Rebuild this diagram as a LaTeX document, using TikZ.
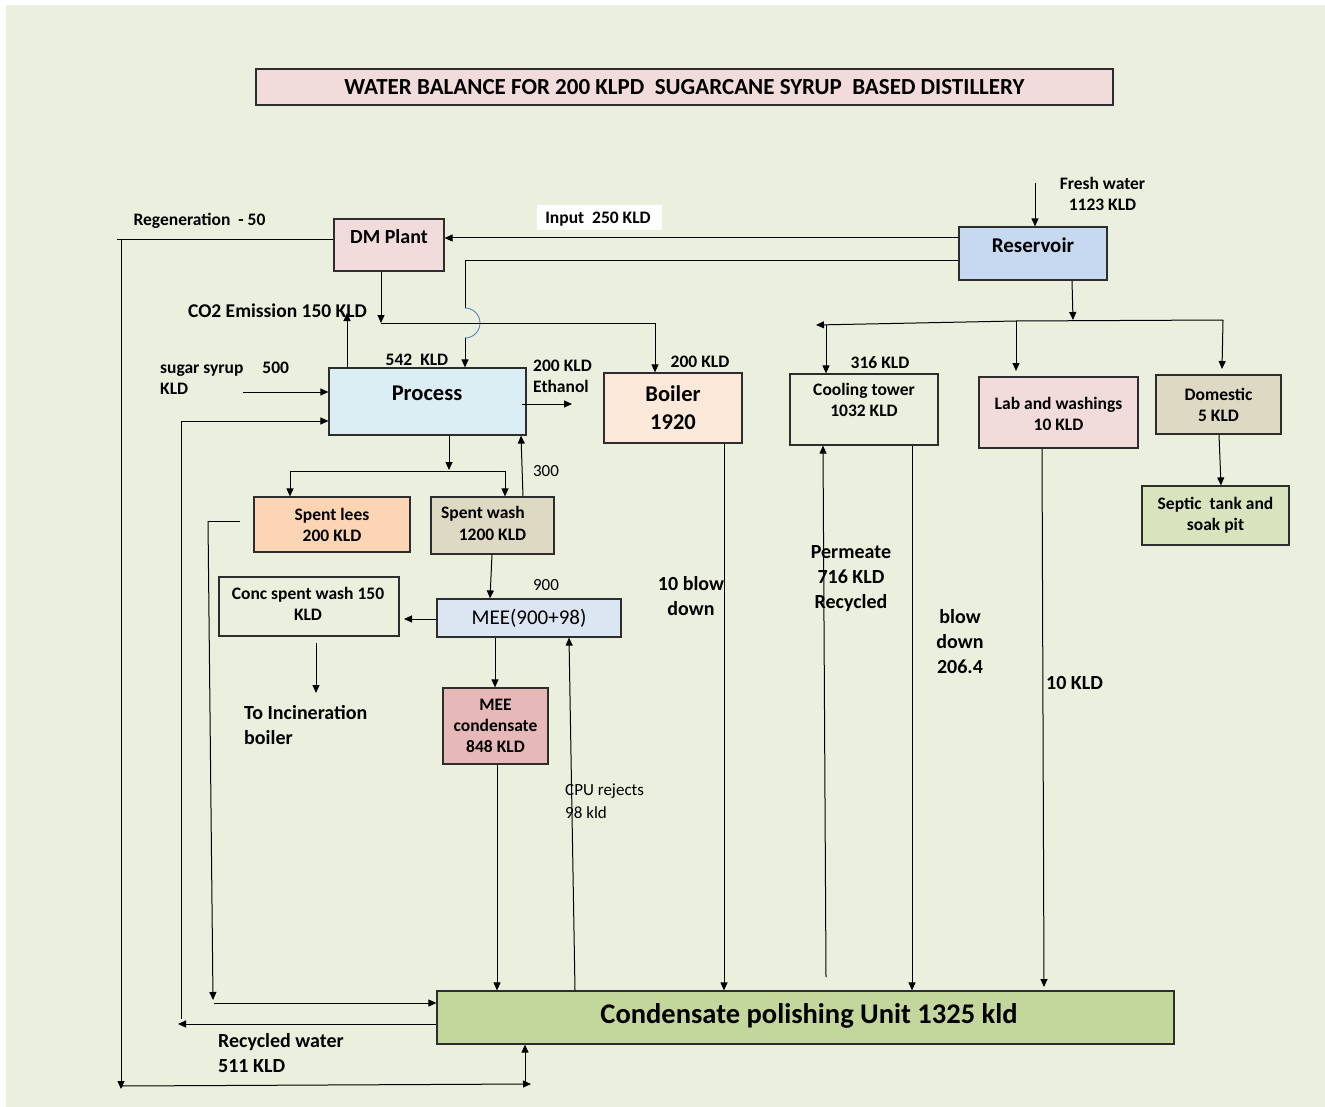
\documentclass[tikz,border=0pt]{standalone}
\usepackage{fontspec}
\setmainfont{Carlito}
\usetikzlibrary{arrows.meta}

\definecolor{bgc}{RGB}{235,239,222}
\definecolor{boxline}{RGB}{45,45,45}
\definecolor{pinkc}{RGB}{242,220,219}
\definecolor{resc}{RGB}{198,217,241}
\definecolor{procc}{RGB}{219,238,244}
\definecolor{boilc}{RGB}{253,233,217}
\definecolor{leesc}{RGB}{252,213,181}
\definecolor{washc}{RGB}{221,217,195}
\definecolor{meec}{RGB}{220,230,242}
\definecolor{condc}{RGB}{230,185,184}
\definecolor{septc}{RGB}{215,228,189}
\definecolor{cpuc}{RGB}{195,214,155}
\definecolor{hopc}{RGB}{79,129,189}

\tikzset{
  box/.style={draw=boxline, line width=1.2pt, inner sep=0pt},
  ln/.style={line width=1pt},
  arr/.style={ln, -{Triangle[length=8pt,width=7pt]}},
  hop/.style={line width=0.9pt, draw=hopc},
  sb/.style={inner sep=0pt, align=center, font=\bfseries\fontsize{17.5}{21}\selectfont},
  mb/.style={inner sep=0pt, align=center, font=\bfseries\fontsize{20}{25}\selectfont},
  lb/.style={inner sep=0pt, align=center, font=\bfseries\fontsize{22.5}{28}\selectfont},
  sr/.style={inner sep=0pt, align=left, font=\fontsize{17}{23}\selectfont},
}

\begin{document}
\begin{tikzpicture}[x=1pt,y=-1pt]
\useasboundingbox (0,0) rectangle (1325,1107);
\fill[white] (0,0) rectangle (1325,1107);
\fill[bgc] (6,5) rectangle (1325,1107);

% ---- heading ----
\node[box, fill=pinkc, minimum width=857pt, minimum height=36pt,
      font=\bfseries\fontsize{23}{27}\selectfont] (title) at (684.5,87)
      {WATER BALANCE FOR 200 KLPD\ \ SUGARCANE SYRUP\ \ BASED DISTILLERY};

% ---- units ----
\node[box, fill=pinkc, minimum width=110pt, minimum height=52pt] (dm) at (389,245) {};
\node[mb] at (389,237) {DM Plant};

\node[fill=white, minimum width=125pt, minimum height=25pt, inner sep=0pt] (inp) at (599.5,217.5) {};
\node[sb] at (598,219) {Input\ \ 250 KLD};

\node[box, fill=resc, minimum width=148pt, minimum height=53pt] (res) at (1033,253.5) {};
\node[inner sep=0pt, font=\bfseries\fontsize{21}{25}\selectfont] at (1033,245) {Reservoir};

\node[box, fill=procc, minimum width=197pt, minimum height=67pt] (proc) at (427.5,401.5) {};
\node[lb] at (427,393) {Process};

\node[box, fill=boilc, minimum width=138pt, minimum height=70pt, lb] (boiler) at (673,408) {Boiler\\1920};

\node[box, minimum width=148pt, minimum height=71pt] (cool) at (864,409.5) {};
\node[sb] at (864,400) {Cooling tower\\1032 KLD};

\node[box, fill=pinkc, minimum width=159pt, minimum height=71pt] (lab) at (1058.5,412.5) {};
\node[sb] at (1058.5,413.5) {Lab and washings\\10 KLD};

\node[box, fill=washc, minimum width=125pt, minimum height=59pt, sb] (dom) at (1218.5,404.5) {Domestic\\5 KLD};

\node[box, fill=septc, minimum width=147pt, minimum height=59pt, sb] (sep) at (1215.5,515.5) {Septic\ \ tank and\\soak pit};

\node[box, fill=leesc, minimum width=156pt, minimum height=55pt, sb] (lees) at (332,524.5) {Spent lees\\200 KLD};

\node[box, fill=washc, minimum width=123pt, minimum height=57pt] (wash) at (492.5,525.5) {};
\node[sb] at (483,514) {Spent wash};
\node[sb] at (492.5,535) {1200 KLD};

\node[box, minimum width=180pt, minimum height=59pt] (conc) at (309,606.5) {};
\node[sb] at (308,604) {Conc spent wash 150\\KLD};

\node[box, fill=meec, minimum width=184pt, minimum height=38pt,
      font=\fontsize{21}{25}\selectfont] (mee) at (529,618) {MEE(900+98)};

\node[box, fill=condc, minimum width=105pt, minimum height=76pt, sb] (meecond) at (495.5,726) {MEE\\condensate\\848 KLD};

\node[box, fill=cpuc, minimum width=737pt, minimum height=53pt] (cpu) at (805.5,1017.5) {};
\node[inner sep=0pt, font=\bfseries\fontsize{28.5}{32}\selectfont] at (809,1016) {Condensate polishing Unit 1325 kld};

% ---- free labels ----
\node[sb] at (199.5,221) {Regeneration\ \ - 50};
\node[inner sep=0pt, font=\bfseries\fontsize{19.5}{24}\selectfont] at (277.5,311) {CO2 Emission 150 KLD};
\node[sb] at (417,360) {542\ \ KLD};
\node[sb, align=left, anchor=west] at (160,378.5) {sugar syrup\hspace{19pt}500\\KLD};
\node[sb, align=left, anchor=west] at (533,376) {200 KLD\\Ethanol};
\node[sb] at (700,362) {200 KLD};
\node[sb] at (880,363) {316 KLD};
\node[sb] at (1102.5,193.5) {Fresh water\\1123 KLD};
\node[sr] at (546,471) {300};
\node[sr] at (546,585) {900};
\node[sr, anchor=west] at (565,801.5) {CPU rejects\\98 kld};
\node[mb] at (691,596.5) {10 blow\\down};
\node[mb] at (851,578.5) {Permeate\\716 KLD\\Recycled};
\node[mb] at (960,641.5) {blow\\down\\206.4};
\node[mb] at (1074.5,683) {10 KLD};
\node[mb, align=left, anchor=west] at (244,725.5) {To Incineration\\boiler};
\node[mb, align=left, anchor=west] at (218,1053.5) {Recycled water\\511 KLD};

% ---- fresh water and reservoir outlets ----
\coordinate (fw) at (1035,183);
\draw[arr] (fw) -- (fw |- res.north);
\draw[arr] (res.west |- 0,238) -- (dm.east |- 0,238);
\draw[ln] (res.west |- 0,261) -- (465,261) -- (465,308);
\draw[hop] (465,308) arc[start angle=90, end angle=-90, radius=15pt];
\draw[arr] (465,338) -- (465,0 |- proc.north);

% DM water to process line and boiler
\draw[arr] (381,0 |- dm.south) -- (381,323);
\draw[arr] (381,323) -- (655,323) -- (655,0 |- boiler.north);

% process inlets and outlets
\draw[arr] (347,0 |- proc.north) -- (347,313);
\draw[arr] (243,392) -- (proc.west |- 0,392);
\draw[arr] (522,404) -- (572,404);
\draw[arr] (449,0 |- proc.south) -- (449,470);
\draw[ln] (290,471) -- (505,471);
\draw[arr] (290,471) -- (290,0 |- lees.north);
\draw[arr] (505,471) -- (505,0 |- wash.north);
\draw[arr] (523,0 |- wash.north) -- (521,0 |- proc.south);

% evaporation train
\draw[arr] (492,0 |- wash.south) -- (490,0 |- mee.north);
\draw[arr] (mee.west |- 0,619) -- (404,619);
\draw[arr] (316,643) -- (316,693);
\draw[arr] (495,0 |- mee.south) -- (495,0 |- meecond.north);
\draw[arr] (497,0 |- meecond.south) -- (497,0 |- cpu.north);
\draw[arr] (575,0 |- cpu.north) -- (569,0 |- mee.south);

% utilities to the polishing unit
\draw[arr] (724,0 |- boiler.south) -- (724,0 |- cpu.north);
\draw[arr] (826,977) -- (823,0 |- cool.south);
\draw[arr] (912,0 |- cool.south) -- (912,0 |- cpu.north);
\draw[arr] (1042,0 |- lab.south) -- (1044,987);

% reservoir distribution header
\draw[arr] (1072,0 |- res.south) -- (1073,320);
\draw[arr] (1223,320) -- (1016,321) -- (816,325);
\draw[arr] (826,325) -- (826,0 |- cool.north);
\draw[arr] (1016,321) -- (1016,371);
\draw[arr] (1223,320) -- (1222,369);
\draw[arr] (1219,0 |- dom.south) -- (1221,0 |- sep.north);

% regeneration line
\draw[ln] (dm.west |- 0,240) -- (117,240);
\draw[arr] (121,240) -- (121,1089);
\draw[arr] (121,1086) -- (531,1084);
\draw[arr] (525,1084) -- (525,0 |- cpu.south);

% spent lees to polishing unit
\draw[ln] (240,521) -- (208,521);
\draw[arr] (208,521) -- (213,1000);
\draw[arr] (214,1003) -- (cpu.west |- 0,1003);

% recycled water back to process
\draw[arr] (cpu.west |- 0,1024) -- (178,1024);
\draw[arr] (181,1019) -- (181,421) -- (proc.west |- 0,421);
\end{tikzpicture}
\end{document}
